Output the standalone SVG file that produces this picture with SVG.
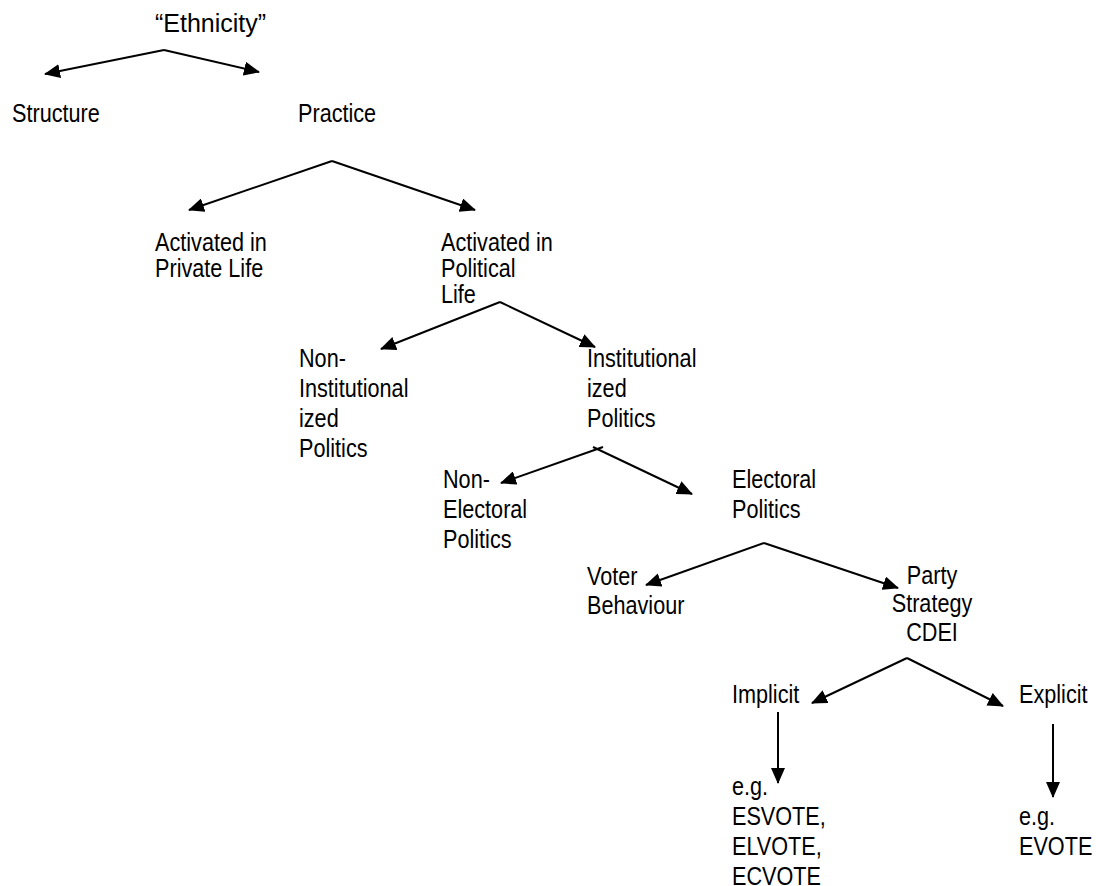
<svg xmlns="http://www.w3.org/2000/svg" width="1096" height="886" viewBox="0 0 1096 886">
<style>
text{font-family:"Liberation Sans",Arial,sans-serif;font-size:26.4px;fill:#000}
.t{font-size:25px}
.c{stroke:#000;stroke-width:2;fill:none}
</style>
<defs>
<marker id="ah" markerUnits="userSpaceOnUse" markerWidth="16" markerHeight="14" refX="15" refY="7" orient="auto">
<path d="M0,0 L16,7 L0,14 z" fill="#000"/>
</marker>
</defs>
<rect width="1096" height="886" fill="#fff"/>
<g id="connectors">
<path class="c" d="M164,50 L45,74" marker-end="url(#ah)"/>
<path class="c" d="M164,50 L259,72" marker-end="url(#ah)"/>
<path class="c" d="M332,161 L189,210" marker-end="url(#ah)"/>
<path class="c" d="M332,161 L475,210" marker-end="url(#ah)"/>
<path class="c" d="M500,302 L381,349" marker-end="url(#ah)"/>
<path class="c" d="M500,302 L595,347" marker-end="url(#ah)"/>
<path class="c" d="M603,447 L501,483" marker-end="url(#ah)"/>
<path class="c" d="M593,447 L692,494" marker-end="url(#ah)"/>
<path class="c" d="M764,543 L646,585" marker-end="url(#ah)"/>
<path class="c" d="M764,543 L898,588" marker-end="url(#ah)"/>
<path class="c" d="M907,658 L812,703" marker-end="url(#ah)"/>
<path class="c" d="M907,658 L1003,706" marker-end="url(#ah)"/>
<path class="c" d="M778,712 L778,783" marker-end="url(#ah)"/>
<path class="c" d="M1053,724 L1053,797" marker-end="url(#ah)"/>
</g>
<g id="n-ethnicity"><text class="t" x="155" y="32">“Ethnicity”</text></g>
<g id="n-structure" transform="translate(12 0) scale(0.82 1)"><text x="0" y="122">Structure</text></g>
<g id="n-practice" transform="translate(298 0) scale(0.82 1)"><text x="0" y="122">Practice</text></g>
<g id="n-private" transform="translate(155 0) scale(0.82 1)"><text x="0" y="251">Activated in<tspan x="0" y="277">Private Life</tspan></text></g>
<g id="n-political" transform="translate(441 0) scale(0.82 1)"><text x="0" y="251">Activated in<tspan x="0" y="277">Political</tspan><tspan x="0" y="303">Life</tspan></text></g>
<g id="n-noninst" transform="translate(299 0) scale(0.82 1)"><text x="0" y="367">Non-<tspan x="0" y="397">Institutional</tspan><tspan x="0" y="427">ized</tspan><tspan x="0" y="457">Politics</tspan></text></g>
<g id="n-inst" transform="translate(587 0) scale(0.82 1)"><text x="0" y="367">Institutional<tspan x="0" y="397">ized</tspan><tspan x="0" y="427">Politics</tspan></text></g>
<g id="n-nonelect" transform="translate(443 0) scale(0.82 1)"><text x="0" y="488">Non-<tspan x="0" y="518">Electoral</tspan><tspan x="0" y="548">Politics</tspan></text></g>
<g id="n-elect" transform="translate(732 0) scale(0.82 1)"><text x="0" y="488">Electoral<tspan x="0" y="518">Politics</tspan></text></g>
<g id="n-voter" transform="translate(587 0) scale(0.82 1)"><text x="0" y="585">Voter<tspan x="0" y="614">Behaviour</tspan></text></g>
<g id="n-party" transform="translate(932 0) scale(0.82 1)"><text x="0" y="584" text-anchor="middle">Party<tspan x="0" y="612">Strategy</tspan><tspan x="0" y="641">CDEI</tspan></text></g>
<g id="n-implicit" transform="translate(732 0) scale(0.82 1)"><text x="0" y="703">Implicit</text></g>
<g id="n-explicit" transform="translate(1019 0) scale(0.82 1)"><text x="0" y="703">Explicit</text></g>
<g id="n-implicit-eg" transform="translate(732 0) scale(0.82 1)"><text x="0" y="795">e.g.<tspan x="0" y="825">ESVOTE,</tspan><tspan x="0" y="855">ELVOTE,</tspan><tspan x="0" y="885">ECVOTE</tspan></text></g>
<g id="n-explicit-eg" transform="translate(1019 0) scale(0.82 1)"><text x="0" y="825">e.g.<tspan x="0" y="855">EVOTE</tspan></text></g>
</svg>
